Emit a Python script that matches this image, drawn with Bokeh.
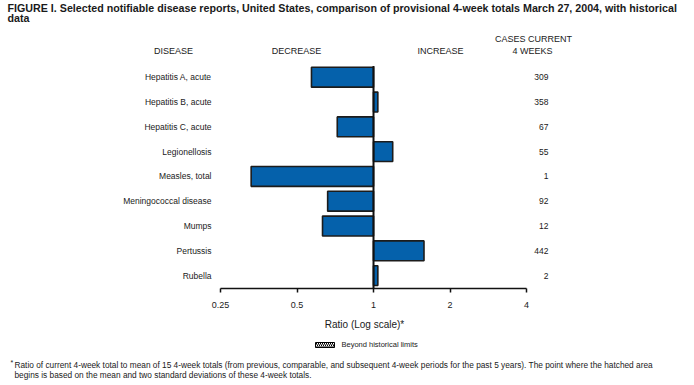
from bokeh.plotting import figure
from bokeh.models import Range1d, LogAxis, FixedTicker, CustomJSTickFormatter, LinearScale
from bokeh.core.properties import value
from bokeh.embed import file_html
from bokeh.resources import INLINE

diseases = ["Hepatitis A, acute", "Hepatitis B, acute", "Hepatitis C, acute",
            "Legionellosis", "Measles, total", "Meningococcal disease",
            "Mumps", "Pertussis", "Rubella"]
ratios = [0.57, 1.04, 0.72, 1.19, 0.33, 0.66, 0.63, 1.58, 1.04]
cases = [309, 358, 67, 55, 1, 92, 12, 442, 2]
ticks = [0.25, 0.5, 1, 2, 4]
tick_labels = ["0.25", "0.5", "1", "2", "4"]

title_lines = ["FIGURE I. Selected notifiable disease reports, United States, comparison of provisional 4-week totals March 27, 2004, with historical",
               "data"]
footnote = ["Ratio of current 4-week total to mean of 15 4-week totals (from previous, comparable, and subsequent 4-week periods for the past 5 years). The point where the hatched area",
            "begins is based on the mean and two standard deviations of these 4-week totals."]

W, H = 694, 385
FONT = "Liberation Sans"
TXT = "#1a1a1a"

p = figure(width=W, height=H, output_backend="svg", toolbar_location=None,
           x_axis_type="log", x_range=Range1d(2 ** -4.876, 2 ** 4.196),
           y_range=Range1d(12.43, -3.093), x_axis_location=None, y_axis_location=None,
           min_border=0, outline_line_color=None)
p.xgrid.visible = False
p.ygrid.visible = False
p.extra_x_ranges = {"px": Range1d(0, W)}
p.extra_y_ranges = {"px": Range1d(H, 0)}
p.extra_x_scales = {"px": LinearScale()}
p.extra_y_scales = {"px": LinearScale()}

idx = list(range(len(diseases)))
left = [min(r, 1.0) for r in ratios]
right = [max(r, 1.0) for r in ratios]
p.hbar(y=idx, left=left, right=right, height=0.8, fill_color="#0561AB",
       line_color="#1c1c1c", line_width=1.6)

AXIS_Y = 8.52
p.segment(x0=[1], y0=[-0.45], x1=[1], y1=[AXIS_Y], line_color="#111111", line_width=2)

ax = LogAxis(fixed_location=AXIS_Y, bounds=(ticks[0], ticks[-1]),
             ticker=FixedTicker(ticks=ticks, minor_ticks=[]),
             formatter=CustomJSTickFormatter(code="return String(tick)"),
             major_label_overrides=dict(zip(ticks, tick_labels)),
             axis_line_color="#111111", axis_line_width=1.5,
             major_tick_line_color="#111111", major_tick_line_width=1.5,
             major_tick_in=0, major_tick_out=4, minor_tick_line_color=None,
             major_label_text_font=FONT, major_label_text_font_size="9px",
             major_label_text_color=TXT, major_label_standoff=9)
p.add_layout(ax, "below")


def txt(x, y, s, size, align="left", bold=False, xr="px", yr="px"):
    kw = {}
    if xr:
        kw["x_range_name"] = xr
    if yr:
        kw["y_range_name"] = yr
    p.text(x=x, y=y, text=s, text_font=value(FONT), text_font_size=size,
           text_font_style="bold" if bold else "normal", text_align=align,
           text_baseline="middle", text_color=TXT, **kw)


txt([7], [7], [title_lines[0]], "10.7px", bold=True)
txt([7], [17.5], [title_lines[1]], "10.7px", bold=True)

txt([173], [50], ["DISEASE"], "9px", "center")
txt([296], [50], ["DECREASE"], "9px", "center")
txt([440], [50], ["INCREASE"], "9px", "center")
txt([533], [38], ["CASES CURRENT"], "9px", "center")
txt([532], [50], ["4 WEEKS"], "9px", "center")

txt([211] * len(diseases), idx, diseases, "8.5px", "right", yr=None)
txt([548] * len(cases), idx, [str(c) for c in cases], "8.5px", "right", yr=None)

txt([364], [323.5], ["Ratio (Log scale)*"], "10px", "center")

p.rect(x=[324.5], y=[344.5], width=19, height=5, fill_color="#000000",
       line_color="#000000", hatch_pattern="\\", hatch_color="#ffffff",
       hatch_scale=4, hatch_weight=1, x_range_name="px", y_range_name="px")
txt([341], [344], ["Beyond historical limits"], "7.5px")

txt([10], [362], ["*"], "7px")
txt([14, 14], [364.5, 374], footnote, "8.3px")

open("out.html", "w").write(file_html(p, INLINE))
